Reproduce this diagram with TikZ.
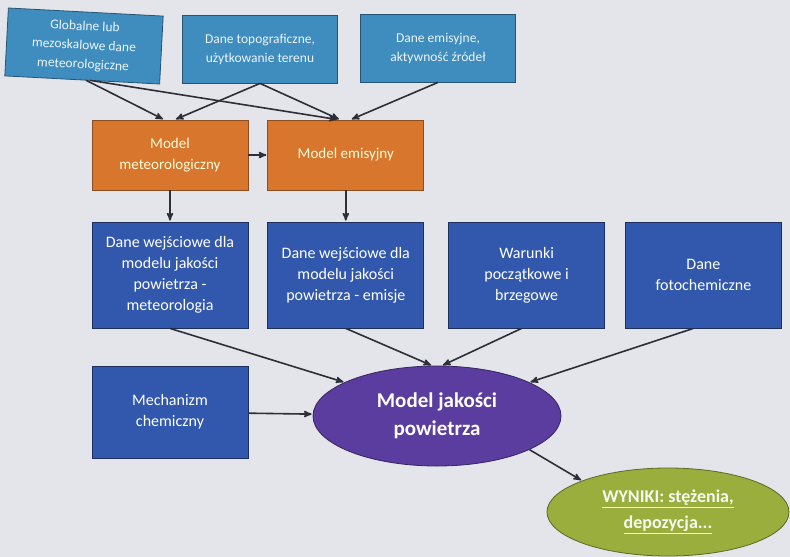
\documentclass[tikz,border=0pt]{standalone}
\usepackage{fontspec}
\setmainfont{Carlito}
\usetikzlibrary{arrows,automata}
\usetikzlibrary{positioning}
\usetikzlibrary{calc}
\usetikzlibrary{shapes.geometric}

\definecolor{bgpage}{HTML}{E4E4EB}
\definecolor{topblue}{HTML}{3F8DBF}
\definecolor{modelorange}{HTML}{D9762E}
\definecolor{inblue}{HTML}{3258AE}
\definecolor{aqpurple}{HTML}{5A3D9E}
\definecolor{resgreen}{HTML}{9AAE3E}
\definecolor{arrowgray}{HTML}{2E2E38}

\begin{document}
\begin{tikzpicture}[x=1pt,y=-1pt,->,>=stealth',shorten >=1pt,line width=1.6pt,
					draw=arrowgray]
					\tikzstyle{topbox}=[shape=rectangle,draw=topblue!60!black,line width=0.8pt,fill=topblue,
						text=white!90!topblue,font=\fontsize{13.5}{19}\selectfont,align=center,
						minimum width=155pt,minimum height=68pt,inner sep=2pt]
					\tikzstyle{modelbox}=[shape=rectangle,draw=modelorange!65!black,line width=0.8pt,fill=modelorange,
						text=yellow!15!white,font=\fontsize{15}{21}\selectfont,align=center,
						minimum width=156pt,minimum height=70pt]
					\tikzstyle{inbox}=[shape=rectangle,draw=inblue!55!black,line width=0.8pt,fill=inblue,
						text=white,font=\fontsize{16}{21}\selectfont,align=center,
						minimum width=156pt,minimum height=106pt,inner sep=2pt]
					
					\fill[bgpage] (0,0) rectangle (790,557);
					\useasboundingbox (0,0) rectangle (790,557);
					
					% dane zrodlowe
					\node[topbox,rotate=-3] (glob) at (84,46) {Globalne lub\\mezoskalowe dane\\meteorologiczne};
					\node[topbox]           (topo) at (260,49) {Dane topograficzne,\\użytkowanie terenu};
					\node[topbox]           (emis) at (438,48) {Dane emisyjne,\\aktywność źródeł};
					
					% modele
					\node[modelbox]         (M_met) at (170,155) {Model\\meteorologiczny};
					\node[modelbox]         (M_emi) [right=19pt of M_met] {Model emisyjny};
					
					% dane wejsciowe
					\node[inbox]            (in_met) at (170,275) {Dane wejściowe dla\\modelu jakości\\powietrza -\\meteorologia};
					\node[inbox]            (in_emi) [right=19pt of in_met] {Dane wejściowe dla\\modelu jakości\\powietrza - emisje};
					\node[inbox]            (in_wb) [right=24pt of in_emi] {Warunki\\początkowe i\\brzegowe};
					\node[inbox]            (in_foto) [right=20pt of in_wb] {Dane\\fotochemiczne};
					\node[inbox,minimum height=92pt] (mech) at (170,412) {Mechanizm\\chemiczny};
					
					\node[ellipse,draw=aqpurple!60!black,line width=0.8pt,fill=aqpurple,text=white,
						font=\fontsize{21}{28}\selectfont\bfseries,align=center,
						minimum width=248pt,minimum height=100pt,inner sep=1pt] (AQM) at (437,416) {Model jakości\\powietrza};
					\node[ellipse,draw=resgreen!60!black,line width=0.8pt,fill=resgreen,text=white!92!resgreen,
						font=\fontsize{18}{26}\selectfont\bfseries,align=center,
						minimum width=242pt,minimum height=88pt,inner sep=1pt] (wyniki) at (668,512)
						{\underline{WYNIKI: stężenia,}\\\underline{depozycja...}};
					
					\path[arrowgray]
					([xshift=4pt]glob.south) edge ([xshift=-6pt]M_met.north)
					([xshift=8pt]glob.south) edge ([xshift=-8pt]M_emi.north)
					(topo.south) edge ([xshift=5pt]M_met.north)
					(topo.south) edge ([xshift=-6pt]M_emi.north)
					(emis.south) edge ([xshift=5pt]M_emi.north)
					(M_met) edge (M_emi)
					(M_met) edge (in_met)
					(M_emi) edge (in_emi)
					(in_met.south) edge (AQM.160)
					(in_emi.south) edge ([xshift=-5pt]AQM.north)
					([xshift=-5pt]in_wb.south) edge ([xshift=5pt]AQM.north)
					([xshift=-10pt]in_foto.south) edge (AQM.20)
					(mech) edge (AQM)
					(AQM.-20) edge (wyniki.160)
					;
					\end{tikzpicture}
\end{document}
